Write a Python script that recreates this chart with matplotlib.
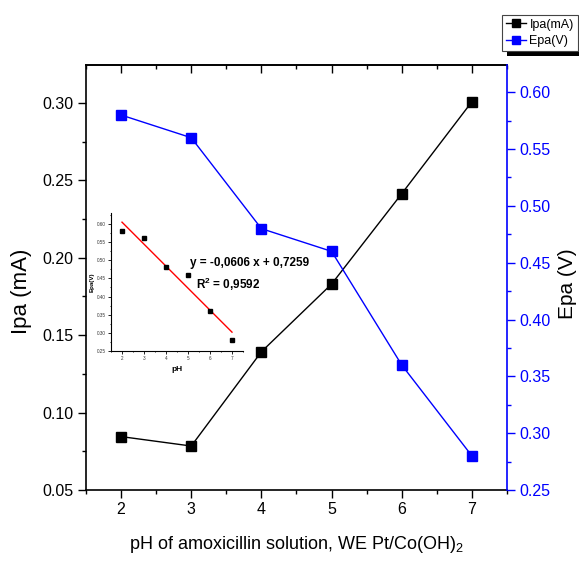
import numpy as np
import matplotlib
matplotlib.use("Agg")
import matplotlib.pyplot as plt
from matplotlib.ticker import MultipleLocator, FormatStrFormatter
from matplotlib.patches import Rectangle

plt.rcParams['font.family'] = ['Liberation Sans', 'DejaVu Sans']
plt.rcParams['mathtext.fontset'] = 'custom'
plt.rcParams['mathtext.rm'] = 'Liberation Sans'
plt.rcParams['mathtext.bf'] = 'Liberation Sans:bold'

# pH series and peak data
ph = [2, 3, 4, 5, 6, 7]
ipa = [0.0845, 0.0784, 0.1393, 0.1830, 0.2414, 0.3008]   # mA
epa = [0.58, 0.56, 0.48, 0.46, 0.36, 0.28]               # V

W, H = 579, 561
fig = plt.figure(figsize=(W / 100, H / 100), dpi=100)
ax1 = fig.add_axes([86 / W, 1 - 490 / H, (507 - 86) / W, (490 - 65) / H])
ax2 = ax1.twinx()

l1, = ax1.plot(ph, ipa, '-s', color='black', lw=1.0, ms=7, label='Ipa(mA)')
l2, = ax2.plot(ph, epa, '-s', color='blue', lw=1.0, ms=7, label='Epa(V)')

ax1.set_xlim(1.5, 7.5)
ax1.set_ylim(0.05, 0.3245)
ax2.set_ylim(0.25, 0.624)

ax1.xaxis.set_major_locator(MultipleLocator(1))
ax1.xaxis.set_minor_locator(MultipleLocator(0.5))
ax1.yaxis.set_major_locator(MultipleLocator(0.05))
ax1.yaxis.set_minor_locator(MultipleLocator(0.025))
ax1.yaxis.set_major_formatter(FormatStrFormatter('%.2f'))
ax2.yaxis.set_major_locator(MultipleLocator(0.05))
ax2.yaxis.set_minor_locator(MultipleLocator(0.025))
ax2.yaxis.set_major_formatter(FormatStrFormatter('%.2f'))

ax1.tick_params(which='major', direction='out', length=5.5, width=1.0, labelsize=11.5)
ax1.tick_params(which='minor', direction='out', length=3, width=1.0)
ax2.tick_params(which='major', direction='out', length=5.5, width=1.0, labelsize=11.5,
                colors='blue')
ax2.tick_params(which='minor', direction='out', length=3, width=1.0, colors='blue')

# top axis: ticks pointing inwards, no labels
top = ax1.secondary_xaxis('top')
top.xaxis.set_major_locator(MultipleLocator(1))
top.xaxis.set_minor_locator(MultipleLocator(0.5))
top.tick_params(which='major', direction='in', length=5.5, width=1.0, labeltop=False)
top.tick_params(which='minor', direction='in', length=3, width=1.0)
top.spines['top'].set_linewidth(1.2)

for s in ['left', 'bottom', 'top']:
    ax1.spines[s].set_linewidth(1.2)
    ax2.spines[s].set_visible(False)
ax1.spines['right'].set_visible(False)
ax2.spines['right'].set_color('blue')
ax2.spines['right'].set_linewidth(1.2)

ax1.set_xlabel('pH of amoxicillin solution, WE Pt/Co(OH)$_2$', fontsize=13, labelpad=12)
ax1.set_ylabel('Ipa (mA)', fontsize=16)
ax1.yaxis.set_label_coords(-0.128, 0.468)
ax2.set_ylabel('Epa (V)', fontsize=15)
ax2.yaxis.set_label_coords(1.121, 0.485)

# inset: linear fit of Epa vs pH
ins = fig.add_axes([111 / W, 1 - 351 / H, (243 - 111) / W, (351 - 213) / H])
ins.patch.set_alpha(0)
slope, icpt = np.polyfit(ph, epa, 1)
fit_x = np.array([ph[0], ph[-1]])
ins.plot(fit_x, slope * fit_x + icpt, color='red', lw=1.0)
ins.plot(ph, epa, 's', color='black', ms=2.5)
ins.set_xlim(1.5, 7.5)
ins.set_ylim(0.25, 0.63)
ins.xaxis.set_major_locator(MultipleLocator(1))
ins.xaxis.set_minor_locator(MultipleLocator(0.5))
ins.yaxis.set_major_locator(MultipleLocator(0.05))
ins.yaxis.set_minor_locator(MultipleLocator(0.025))
ins.yaxis.set_major_formatter(FormatStrFormatter('%.2f'))
ins.tick_params(which='major', length=2, width=0.6, labelsize=3.3, pad=1.5,
                labelcolor='#333333')
ins.tick_params(which='minor', length=1, width=0.6)
for s in ['top', 'right']:
    ins.spines[s].set_visible(False)
for s in ['left', 'bottom']:
    ins.spines[s].set_linewidth(0.8)
ins.set_xlabel('pH', fontsize=6, fontweight='bold', labelpad=4)
ins.set_ylabel('Epa(V)', fontsize=4.5, fontweight='bold', labelpad=2)

fig.text(190 / W, 1 - 263 / H, 'y = -0,0606 x + 0,7259', fontsize=8.5,
         fontweight='bold', va='center', ha='left')
fig.text(196 / W, 1 - 284 / H, r'R$^\mathbf{2}$ = 0,9592', fontsize=8.5,
         fontweight='bold', va='center', ha='left')

leg = fig.legend([l1, l2], ['Ipa(mA)', 'Epa(V)'], loc='upper left',
                 bbox_to_anchor=(502 / W, 1 - 15 / H), fontsize=9,
                 fancybox=False, edgecolor='#444444', framealpha=1,
                 handlelength=1.6, handletextpad=0.3, borderpad=0.3,
                 labelspacing=0.35, borderaxespad=0, markerscale=0.8)
leg.get_frame().set_linewidth(0.8)

# solid drop shadow behind the legend box
fig.canvas.draw()
bb = leg.get_window_extent()
shadow = Rectangle((bb.x0 + 5, bb.y0 - 5), bb.width, bb.height, transform=None,
                   facecolor='black', edgecolor='none', zorder=leg.get_zorder() - 1)
fig.add_artist(shadow)

fig.savefig('out.png', dpi=100)
